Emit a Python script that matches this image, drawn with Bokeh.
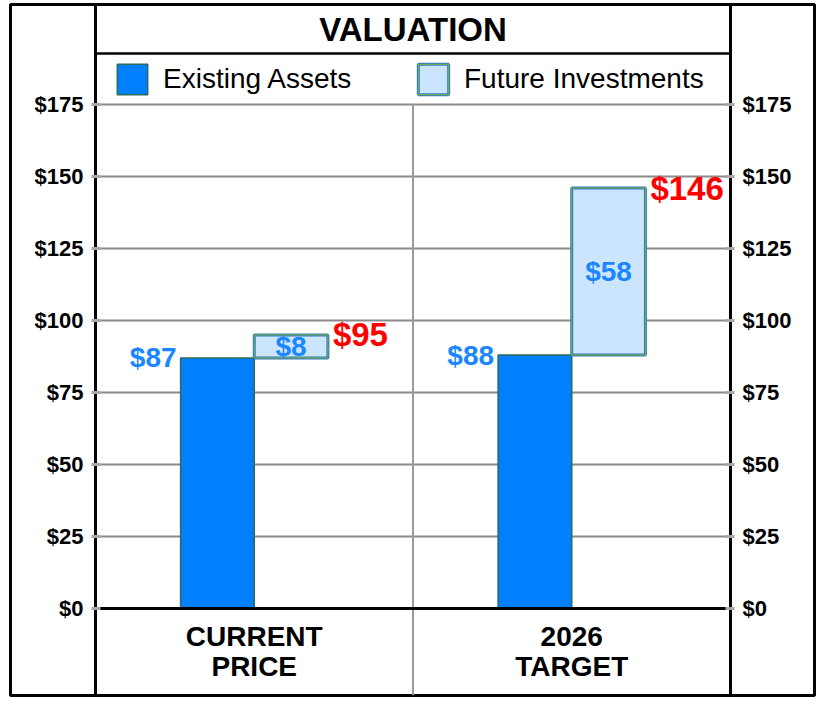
from bokeh.plotting import figure
from bokeh.models import (Range1d, FixedTicker, LinearAxis, ColumnDataSource, Legend,
                          LegendItem, Label)
from bokeh.core.properties import value
from bokeh.embed import file_html
from bokeh.resources import INLINE

# ---------------- data ----------------
categories = ["CURRENT\nPRICE", "2026\nTARGET"]
existing_assets = [87, 88]
future_investments = [8, 58]
totals = [95, 146]
y_ticks = [0, 25, 50, 75, 100, 125, 150, 175]
y_tick_labels = ["$0", "$25", "$50", "$75", "$100", "$125", "$150", "$175"]
series_names = ["Existing Assets", "Future Investments"]
chart_title = "VALUATION"

# ---------------- layout constants ----------------
FONT = "Liberation Sans"
W, H = 824, 700
B_LEFT, B_RIGHT, B_TOP, B_BOTTOM = 10, 10, 4, 5
FRAME_W = W - B_LEFT - B_RIGHT
FRAME_H = H - B_TOP - B_BOTTOM
INNER_L, INNER_R = 85, 84                 # px from the outer box to the inner (axis) lines
X_N = len(categories)
PX_PER_X = (FRAME_W - INNER_L - INNER_R) / X_N
x_min = -INNER_L / PX_PER_X
x_max = X_N + INNER_R / PX_PER_X
PX_PER_DOLLAR = 2.88
Y_TOP_TICK = y_ticks[-1]
TOP_TICK_FROM_FRAME_TOP = 100
y_max = Y_TOP_TICK + TOP_TICK_FROM_FRAME_TOP / PX_PER_DOLLAR
y_min = y_max - FRAME_H / PX_PER_DOLLAR


def y_above_top_tick(px):
    return Y_TOP_TICK + px / PX_PER_DOLLAR


p = figure(width=W, height=H, x_range=Range1d(x_min, x_max), y_range=Range1d(y_min, y_max),
           output_backend="svg", toolbar_location=None, title=None,
           x_axis_location=None, y_axis_location=None,
           min_border_left=B_LEFT, min_border_right=B_RIGHT,
           min_border_top=B_TOP, min_border_bottom=B_BOTTOM)
p.outline_line_color = "black"
p.outline_line_width = 3
p.background_fill_color = "white"
p.border_fill_color = "white"
for g in p.grid:
    g.visible = False

# horizontal grid lines (only between the two inner axis lines)
grid_ticks = y_ticks[1:]
p.segment(x0=[0] * len(grid_ticks), x1=[X_N] * len(grid_ticks), y0=grid_ticks, y1=grid_ticks,
          line_color="#8a8a8a", line_width=2)

# centre divider
p.segment(x0=[X_N / 2], y0=[y_min], x1=[X_N / 2], y1=[Y_TOP_TICK], line_color="#9a9a9a",
          line_width=2)

# bars
BAR_W = 0.232
centers = [i + 0.5 for i in range(X_N)]
src = ColumnDataSource(dict(
    e_left=[c - BAR_W for c in centers],
    e_right=centers,
    e_top=existing_assets,
    f_left=centers,
    f_right=[c + BAR_W for c in centers],
    f_bottom=existing_assets,
    f_top=[e + f for e, f in zip(existing_assets, future_investments)],
    f_mid=[e + f / 2 for e, f in zip(existing_assets, future_investments)],
    f_center=[c + BAR_W / 2 for c in centers],
    e_label=[f"${v}" for v in existing_assets],
    f_label=[f"${v}" for v in future_investments],
    t_label=[f"${v}" for v in totals],
    totals=totals,
))

r_e = p.quad(left="e_left", right="e_right", bottom=0, top="e_top", source=src,
             fill_color="#0080ff", line_color="#2f6a55", line_width=1.5)
r_f = p.quad(left="f_left", right="f_right", bottom="f_bottom", top="f_top", source=src,
             fill_color="#cce5ff", line_color="#2d79c4", line_width=3)
r_f2 = p.quad(left="f_left", right="f_right", bottom="f_bottom", top="f_top", source=src,
              fill_color=None, line_color="#84b43c", line_width=1)

# zero line and title separator (between the inner lines)
p.segment(x0=[0, 0], x1=[X_N, X_N], y0=[0, y_above_top_tick(51)], y1=[0, y_above_top_tick(51)],
          line_color="black", line_width=[3, 2.5])

# y axes fixed on the inner lines
for side, loc in (("left", 0), ("right", X_N)):
    ax = LinearAxis(ticker=FixedTicker(ticks=y_ticks), fixed_location=loc,
                    major_label_overrides={t: l for t, l in zip(y_ticks, y_tick_labels)},
                    axis_line_color="black", axis_line_width=3,
                    major_tick_in=5, major_tick_out=4,
                    major_tick_line_color="#a8a8a8", major_tick_line_width=3,
                    minor_tick_line_color=None,
                    major_label_text_font=FONT, major_label_text_font_size="22px",
                    major_label_text_font_style="bold", major_label_text_color="black",
                    major_label_standoff=8)
    p.add_layout(ax, side)

# value labels
BLUE_TEXT = "#1a86ff"
p.text(x="e_left", y="e_top", text="e_label", source=src, x_offset=-4,
       text_align="right", text_baseline="middle", text_font=value(FONT),
       text_font_size="28px", text_font_style="bold", text_color=BLUE_TEXT)
p.text(x="f_center", y="f_mid", text="f_label", source=src,
       text_align="center", text_baseline="middle", text_font=value(FONT),
       text_font_size="28px", text_font_style="bold", text_color=BLUE_TEXT)
p.text(x="f_right", y="totals", text="t_label", source=src, x_offset=5,
       text_align="left", text_baseline="middle", text_font=value(FONT),
       text_font_size="33px", text_font_style="bold", text_color="#ff0000")

# category labels
p.text(x=centers, y=[-43 / PX_PER_DOLLAR] * X_N, text=categories,
       text_align="center", text_baseline="middle", text_font=value(FONT),
       text_font_size="28px", text_font_style="bold", text_color="black",
       text_line_height=0.98)

# title
p.add_layout(Label(x=X_N / 2, y=y_above_top_tick(75), text=chart_title,
                   text_align="center", text_baseline="middle", text_font=FONT,
                   text_font_size="33px", text_font_style="bold", text_color="black"))

# legends
leg_common = dict(orientation="horizontal", glyph_width=38, glyph_height=38,
                  label_text_font=FONT, label_text_font_size="28px",
                  label_text_color="black",
                  label_standoff=12, padding=0, margin=0, spacing=0,
                  border_line_color=None, background_fill_alpha=0, label_height=30)
LEG_Y = FRAME_H - (TOP_TICK_FROM_FRAME_TOP - 6)
leg1 = Legend(items=[LegendItem(label=series_names[0], renderers=[r_e])],
              location=(INNER_L + 18, LEG_Y), **leg_common)
leg2 = Legend(items=[LegendItem(label=series_names[1], renderers=[r_f, r_f2])],
              location=(INNER_L + 319, LEG_Y), **leg_common)
p.add_layout(leg1)
p.add_layout(leg2)

open("out.html", "w").write(file_html(p, INLINE))
